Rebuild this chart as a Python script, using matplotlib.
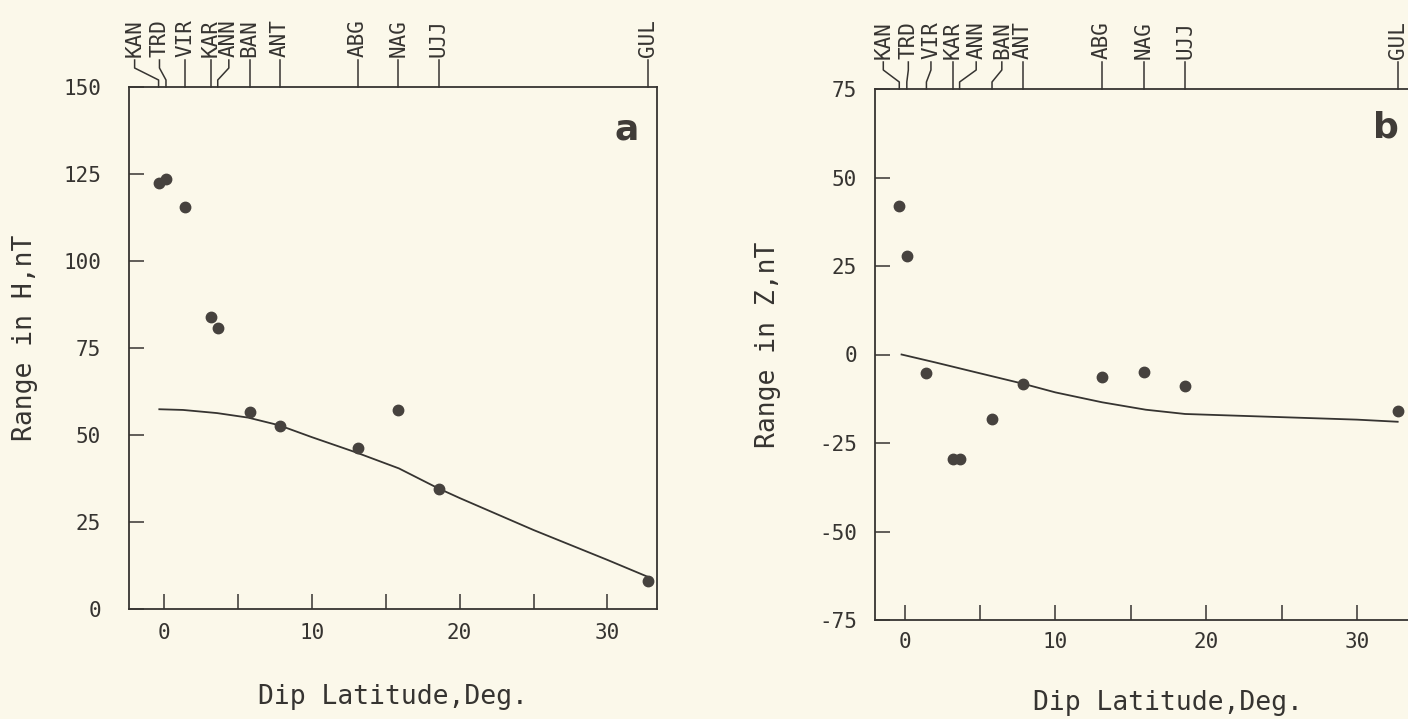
import numpy as np
import matplotlib
matplotlib.use('Agg')
import matplotlib.pyplot as plt
import matplotlib.transforms as mtransforms

# stations (top of both panels) and their dip latitude, deg
stations = ['KAN', 'TRD', 'VIR', 'KAR', 'ANN', 'BAN', 'ANT', 'ABG', 'NAG', 'UJJ', 'GUL']
dip_lat = [-0.35, 0.15, 1.45, 3.2, 3.65, 5.8, 7.85, 13.1, 15.85, 18.6, 32.75]

# observed ranges, nT
range_H = [122.4, 123.5, 115.4, 84.0, 80.7, 56.6, 52.5, 46.3, 57.2, 34.6, 8.1]
range_Z = [41.9, 27.9, -5.3, -29.6, -29.6, -18.2, -8.3, -6.4, -4.9, -8.8, -16.0]

# model curves
model_H_lat = [-0.3, 1.3, 3.6, 5.7, 7.8, 10, 13, 15.9, 18.5, 20, 25, 30, 32.7]
model_H = [57.4, 57.2, 56.3, 55.0, 52.8, 49.4, 45.0, 40.4, 34.8, 31.9, 22.7, 14.1, 9.3]
model_Z_lat = [-0.2, 2, 4.7, 7.9, 10, 13.1, 16, 18.6, 20, 25, 30, 32.7]
model_Z = [0, -2.2, -5.0, -8.3, -10.7, -13.5, -15.6, -16.8, -17.0, -17.7, -18.4, -19.0]

x_ticks = [0, 5, 10, 15, 20, 25, 30]
x_ticklabels = ['0', '', '10', '', '20', '', '30']
yticks_H = [0, 25, 50, 75, 100, 125, 150]
yticks_Z = [-75, -50, -25, 0, 25, 50, 75]

# where the crowded station names sit (spread apart), per panel
lab_pos_a = [-1.97, -0.29, 1.45, 3.2, 4.4, 5.8, 7.85, 13.1, 15.85, 18.6, 32.75]
lab_pos_b = [-1.41, 0.25, 1.75, 3.2, 4.75, 6.45, 7.85, 13.1, 15.85, 18.6, 32.75]

BG = '#fbf8ea'
INK = '#363431'
DOT = '#46423e'
W, H = 1408, 719

plt.rcParams['font.family'] = ['DejaVu Sans Mono']
plt.rcParams['axes.unicode_minus'] = False

fig = plt.figure(figsize=(W / 100, H / 100), dpi=100, facecolor=BG)


def panel(px, lat, val, mlat, mval, xlim, yt, lab_pos, letter, letter_xy, ypad, xpad):
    l, r, t, b = px
    ax = fig.add_axes([l / W, 1 - b / H, (r - l) / W, (b - t) / H], facecolor=BG)
    ax.plot(mlat, mval, color=INK, lw=1.3)
    ax.plot(lat, val, 'o', color=DOT, mec=DOT, ms=7.5)
    ax.set_xlim(xlim)
    ax.set_ylim(yt[0], yt[-1])
    ax.set_xticks(x_ticks)
    ax.set_xticklabels(x_ticklabels)
    ax.set_yticks(yt)
    ax.set_yticklabels([str(v) for v in yt])
    ax.tick_params(direction='in', length=11, width=1.1, color=INK,
                   labelsize=15, labelcolor=INK)
    ax.tick_params(axis='x', pad=xpad)
    ax.tick_params(axis='y', pad=ypad)
    for s in ax.spines.values():
        s.set_color(INK)
        s.set_linewidth(1.3)
    # station markers above the frame
    h = b - t
    tr = mtransforms.blended_transform_factory(ax.transData, ax.transAxes)
    for st, xs, xl in zip(stations, lat, lab_pos):
        ax.plot([xs, xs, xl, xl], [1, 1 + 7 / h, 1 + 19 / h, 1 + 27 / h],
                transform=tr, color=INK, lw=1.1, clip_on=False)
        ax.text(xl, 1 + 30 / h, st, transform=tr, rotation=90, ha='center',
                va='bottom', fontsize=15, color=INK)
    ax.text((letter_xy[0] - l) / (r - l), (b - letter_xy[1]) / h, letter,
            transform=ax.transAxes, ha='center', va='center', fontsize=26,
            fontweight='bold', family='DejaVu Sans', color='#403c38')
    return ax


panel((129, 657, 87, 609), dip_lat, range_H, model_H_lat, model_H,
      (-2.35, 33.35), yticks_H, lab_pos_a, 'a', (627, 130), 20, 10)
panel((875, 1412, 89, 620), dip_lat, range_Z, model_Z_lat, model_Z,
      (-1.96, 33.65), yticks_Z, lab_pos_b, 'b', (1386, 127), 13, 9)

fig.text(393 / W, 1 - 697 / H, 'Dip Latitude,Deg.', ha='center', va='center',
         fontsize=19, color=INK)
fig.text(1168 / W, 1 - 703 / H, 'Dip Latitude,Deg.', ha='center', va='center',
         fontsize=19, color=INK)
fig.text(25 / W, 1 - 338 / H, 'Range in H,nT', rotation=90, ha='center',
         va='center', fontsize=19, color=INK)
fig.text(768 / W, 1 - 345 / H, 'Range in Z,nT', rotation=90, ha='center',
         va='center', fontsize=19, color=INK)

fig.savefig('out.png', dpi=100, facecolor=BG)
